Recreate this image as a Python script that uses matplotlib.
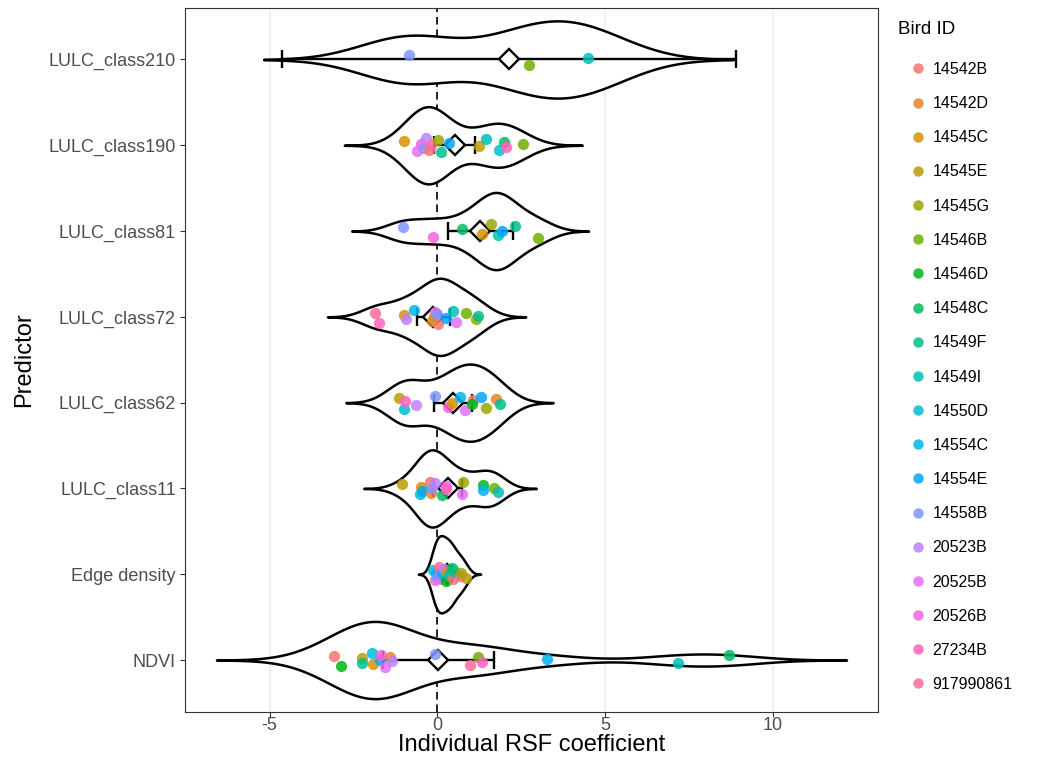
import math
import numpy as np
import matplotlib
matplotlib.use("Agg")
import matplotlib.pyplot as plt
from matplotlib.lines import Line2D

plt.rcParams["font.family"] = ["Liberation Sans", "DejaVu Sans"]

# bird IDs in legend order
birds = ["14542B", "14542D", "14545C", "14545E", "14545G", "14546B", "14546D",
         "14548C", "14549F", "14549I", "14550D", "14554C", "14554E", "14558B",
         "20523B", "20525B", "20526B", "27234B", "917990861"]

# predictors, bottom to top
predictors = ["NDVI", "Edge density", "LULC_class11", "LULC_class62",
              "LULC_class72", "LULC_class81", "LULC_class190", "LULC_class210"]

# individual coefficients (bird, value)
ndvi = [("14542B", -3.08), ("14546D", -2.86), ("14545E", -2.25), ("14549F", -2.25),
        ("14550D", -1.96), ("14545C", -1.91), ("14554E", -1.72), ("20526B", -1.69),
        ("20525B", -1.57), ("14542D", -1.42), ("20523B", -1.35), ("14558B", -0.06),
        ("917990861", 0.98), ("14546B", 1.21), ("27234B", 1.34), ("14554C", 3.28),
        ("14549I", 7.19), ("14548C", 8.70)]
edge = [("14550D", -0.12), ("20526B", -0.06), ("14554E", -0.05), ("14558B", 0.0),
        ("917990861", 0.05), ("20525B", 0.10), ("14554C", 0.15), ("20523B", 0.20),
        ("14546D", 0.25), ("14545C", 0.30), ("14549I", 0.35), ("14548C", 0.43),
        ("14542B", 0.47), ("14549F", 0.50), ("27234B", 0.67), ("14545G", 0.70),
        ("14545E", 0.85)]
c11 = [("14545E", -1.06), ("14550D", -0.52), ("14545C", -0.50), ("14554E", -0.45),
       ("14542B", -0.22), ("14542D", -0.18), ("14558B", -0.16), ("20523B", -0.06),
       ("14548C", 0.14), ("20526B", 0.26), ("27234B", 0.26), ("14545G", 0.77),
       ("20525B", 0.75), ("14546D", 1.35), ("14554C", 1.37), ("14546B", 1.70),
       ("14549I", 1.82)]
c62 = [("14545E", -1.13), ("14550D", -1.00), ("27234B", -0.96), ("20523B", -0.64),
       ("14558B", -0.06), ("20526B", 0.33), ("14545C", 0.43), ("14554C", 0.67),
       ("20525B", 0.82), ("14542B", 1.06), ("14546D", 1.04), ("14554E", 1.31),
       ("14545G", 1.45), ("14542D", 1.76), ("14549F", 1.86)]
c72 = [("917990861", -1.85), ("27234B", -1.75), ("14545C", -0.98), ("20523B", -0.92),
       ("14554C", -0.69), ("14542D", -0.16), ("14545E", -0.10), ("20526B", -0.06),
       ("14542B", 0.01), ("14558B", 0.0), ("14554E", 0.26), ("14549I", 0.46),
       ("20525B", 0.56), ("14546B", 0.85), ("14545G", 1.16), ("14549F", 1.21)]
c81 = [("14558B", -1.03), ("20526B", -0.13), ("14548C", 0.75), ("14545C", 1.34),
       ("14545G", 1.60), ("14549I", 1.82), ("14554E", 1.92), ("14549F", 2.33),
       ("14546B", 2.99)]
c190 = [("14545C", -1.00), ("20525B", -0.60), ("20526B", -0.50), ("14558B", -0.40),
        ("20523B", -0.35), ("14542B", -0.25), ("917990861", -0.20), ("14545G", 0.02),
        ("14549F", 0.10), ("14554E", 0.35), ("14545E", 1.25), ("14549I", 1.45),
        ("14550D", 1.85), ("14548C", 2.00), ("27234B", 2.05), ("14546B", 2.55)]
c210 = [("14558B", -0.85), ("14546B", 2.75), ("14549I", 4.50)]

data = [ndvi, edge, c11, c62, c72, c81, c190, c210]


def hue_pal(n, c=100, l=65):
    # ggplot2 default discrete palette (HCL hues)
    out = []
    Xn, Yn, Zn = 95.047, 100.0, 108.883
    un = 4 * Xn / (Xn + 15 * Yn + 3 * Zn)
    vn = 9 * Yn / (Xn + 15 * Yn + 3 * Zn)
    for h in np.linspace(15, 375, n + 1)[:-1]:
        U = c * math.cos(math.radians(h))
        V = c * math.sin(math.radians(h))
        Y = Yn * ((l + 16) / 116) ** 3
        u = U / (13 * l) + un
        v = V / (13 * l) + vn
        X = 9 * Y * u / (4 * v)
        Z = -X / 3 - 5 * Y + 3 * Y / v
        X, Y2, Z = X / 100, Y / 100, Z / 100
        rgb = [3.240479 * X - 1.53715 * Y2 - 0.498535 * Z,
               -0.969256 * X + 1.875992 * Y2 + 0.041556 * Z,
               0.055648 * X - 0.204043 * Y2 + 1.057311 * Z]
        rgb = [12.92 * t if t <= 0.0031308 else 1.055 * t ** (1 / 2.4) - 0.055 for t in rgb]
        out.append(tuple(min(max(t, 0), 1) for t in rgb))
    return out


def nrd0(x):
    sd = np.std(x, ddof=1)
    q25, q75 = np.percentile(x, [25, 75])
    lo = min(sd, (q75 - q25) / 1.34)
    if lo == 0:
        lo = sd
    return 0.9 * lo * len(x) ** -0.2


def t_crit(df, p=0.975):
    xs = np.linspace(0, 30, 300001)
    k = math.gamma((df + 1) / 2) / (math.sqrt(df * math.pi) * math.gamma(df / 2))
    pdf = k * (1 + xs ** 2 / df) ** (-(df + 1) / 2)
    cdf = 0.5 + np.concatenate([[0], np.cumsum((pdf[1:] + pdf[:-1]) / 2 * (xs[1] - xs[0]))])
    return np.interp(p, cdf, xs)


colors = dict(zip(birds, hue_pal(len(birds))))
jitter = [0.05, -0.07, 0.02, -0.03, 0.08, -0.05, 0.0, 0.06, -0.08,
          0.03, -0.01, 0.07, -0.06, 0.04, -0.02, 0.01, -0.04, 0.06]

fig = plt.figure(figsize=(10.41, 7.71), dpi=100)
ax = fig.add_axes([185 / 1041, 1 - 711.5 / 771, 693 / 1041, 703.5 / 771])

xmin_all, xmax_all = 0, 0
for i, rows in enumerate(data):
    y = i + 1
    vals = np.array([v for _, v in rows])
    bw = nrd0(vals)
    grid = np.linspace(vals.min() - 3 * bw, vals.max() + 3 * bw, 512)
    dens = np.exp(-0.5 * ((grid[:, None] - vals[None, :]) / bw) ** 2).sum(axis=1)
    w = 0.45 * dens / dens.max()
    ax.fill_between(grid, y - w, y + w, facecolor="white", edgecolor="black",
                    linewidth=1.8, zorder=3)
    xmin_all, xmax_all = min(xmin_all, grid[0]), max(xmax_all, grid[-1])

    m = vals.mean()
    half = t_crit(len(vals) - 1) * vals.std(ddof=1) / math.sqrt(len(vals))
    ax.errorbar(m, y, xerr=half, fmt="none", ecolor="black", elinewidth=1.7,
                capsize=6.5, capthick=1.7, zorder=4)
    ax.plot(m, y, marker="D", ms=10, mfc="white", mec="black", mew=1.7, zorder=5)

    for j, (b, v) in enumerate(rows):
        ax.scatter(v, y + jitter[j % len(jitter)], s=66, color=colors[b],
                   alpha=0.85, linewidths=0, zorder=6)

ax.axvline(0, color="black", linestyle=(0, (4.5, 3)), linewidth=1.2, zorder=2)

pad = 0.05 * (xmax_all - xmin_all)
ax.set_xlim(xmin_all - pad, xmax_all + pad)
ax.set_ylim(0.4, len(predictors) + 0.6)
ax.set_xticks([-5, 0, 5, 10])
ax.set_xticklabels(["-5", "0", "5", "10"])
ax.set_yticks(range(1, len(predictors) + 1))
ax.set_yticklabels(predictors)
ax.grid(axis="x", color="#EBEBEB", linewidth=1.1, zorder=0)
ax.set_axisbelow(True)
for s in ax.spines.values():
    s.set_color("#333333")
    s.set_linewidth(0.8)
ax.tick_params(axis="both", labelsize=13, colors="#333333", length=3.5, width=0.8,
               labelcolor="#4D4D4D")
ax.tick_params(axis="x", pad=0.5)
ax.tick_params(axis="y", pad=3)
ax.set_xlabel("Individual RSF coefficient", fontsize=17, labelpad=0)
ax.set_ylabel("Predictor", fontsize=17, labelpad=10)

handles = [Line2D([], [], ls="none", marker="o", ms=7.5, mfc=colors[b], mec="none",
                  alpha=0.85) for b in birds]
fig.text(898 / 1041, 1 - 30 / 771, "Bird ID", fontsize=13.5, va="center", ha="left")
fig.legend(handles, birds, loc="upper left",
           bbox_to_anchor=(899 / 1041, 1 - 62 / 771), frameon=False, fontsize=11.5,
           labelspacing=1.2, handletextpad=-0.3, handlelength=2.4,
           borderaxespad=0, borderpad=0)

fig.savefig("out.png", dpi=100)
